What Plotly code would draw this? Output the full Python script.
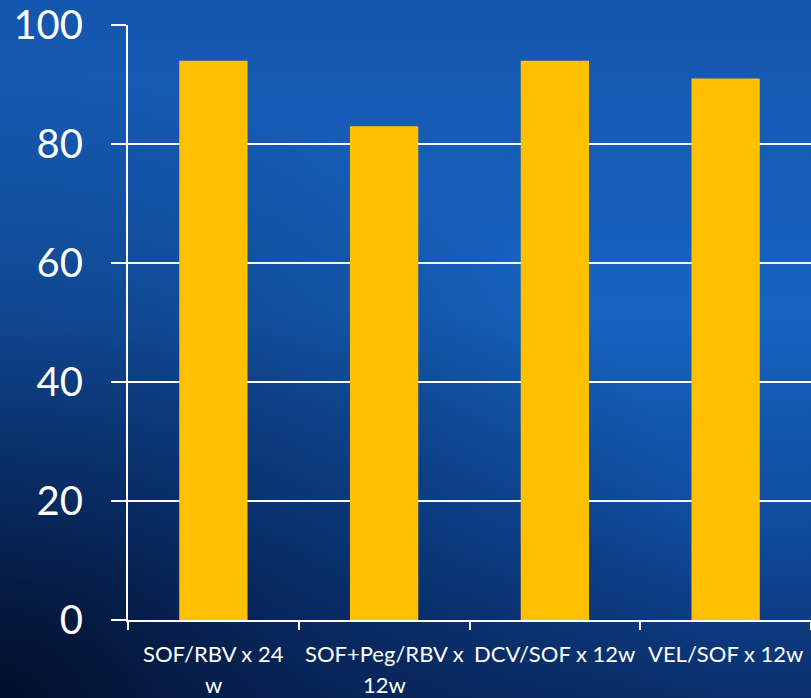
import base64
import plotly.graph_objects as go

# Data
categories = ["SOF/RBV x 24 w", "SOF+Peg/RBV x 12w", "DCV/SOF x 12w", "VEL/SOF x 12w"]
label_lines = [["SOF/RBV x 24", "w"], ["SOF+Peg/RBV x", "12w"], ["DCV/SOF x 12w"], ["VEL/SOF x 12w"]]
values = [94, 83, 94, 91]
y_ticks = [0, 20, 40, 60, 80, 100]

W, H = 811, 698
M_L, M_R, M_T, M_B = 128, 0, 25, 78
plot_w = W - M_L - M_R
plot_h = H - M_T - M_B

FONT = "Lato"
BAR = "#FFC000"

# Slide-style blue background gradient
svg = f"""<svg xmlns='http://www.w3.org/2000/svg' width='{W}' height='{H}'>
<defs>
<linearGradient id='v' x1='0' y1='0' x2='0' y2='1'>
<stop offset='0' stop-color='#1556ae'/>
<stop offset='0.45' stop-color='#1664c0'/>
<stop offset='0.75' stop-color='#0f4c9e'/>
<stop offset='1' stop-color='#0a2f6c'/>
</linearGradient>
<radialGradient id='r' cx='0' cy='1' r='0.9' gradientUnits='objectBoundingBox'>
<stop offset='0' stop-color='#020d26' stop-opacity='0.95'/>
<stop offset='0.45' stop-color='#041a44' stop-opacity='0.55'/>
<stop offset='1' stop-color='#041a44' stop-opacity='0'/>
</radialGradient>
</defs>
<rect width='{W}' height='{H}' fill='url(#v)'/>
<rect width='{W}' height='{H}' fill='url(#r)'/>
</svg>"""
bg_src = "data:image/svg+xml;base64," + base64.b64encode(svg.encode()).decode()

fig = go.Figure(
    go.Bar(
        x=categories,
        y=values,
        marker=dict(color=BAR, line=dict(width=0)),
        width=0.4,
        hoverinfo="skip",
    )
)

# Category labels, wrapped onto lines under each bar
annotations = []
for cat, lines in zip(categories, label_lines):
    for i, line in enumerate(lines):
        annotations.append(
            dict(
                x=cat, y=0, xref="x", yref="y",
                text=line, showarrow=False,
                xanchor="center", yanchor="middle",
                yshift=-(33 + 31 * i),
                font=dict(family=FONT, size=22, color="white"),
            )
        )

fig.update_layout(
    width=W,
    height=H,
    margin=dict(l=M_L, r=M_R, t=M_T, b=M_B, pad=0),
    paper_bgcolor="#124f9e",
    plot_bgcolor="rgba(0,0,0,0)",
    showlegend=False,
    bargap=0.6,
    annotations=annotations,
    images=[
        dict(
            source=bg_src,
            xref="paper", yref="paper",
            x=-M_L / plot_w, y=1 + M_T / plot_h,
            sizex=W / plot_w, sizey=H / plot_h,
            xanchor="left", yanchor="top",
            sizing="stretch", layer="below",
        )
    ],
    xaxis=dict(
        showticklabels=False,
        showgrid=False,
        showline=True,
        linecolor="white",
        linewidth=2,
        ticks="outside",
        tickson="boundaries",
        ticklen=8,
        tickwidth=2,
        tickcolor="white",
        zeroline=False,
    ),
    yaxis=dict(
        range=[0, 100],
        tickvals=y_ticks,
        ticktext=[str(v) for v in y_ticks],
        showgrid=True,
        gridcolor="white",
        gridwidth=2,
        showline=True,
        linecolor="white",
        linewidth=2,
        ticks="outside",
        ticklen=15,
        tickwidth=2,
        tickcolor="white",
        zeroline=False,
        tickfont=dict(family=FONT, size=40, color="white"),
        ticklabelstandoff=20,
    ),
)

fig.write_html("out.html")
